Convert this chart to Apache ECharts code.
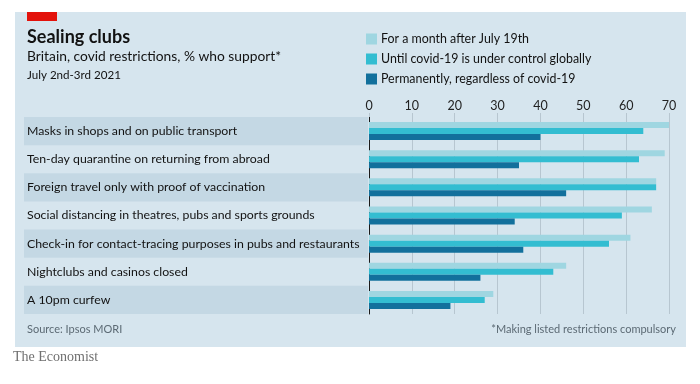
<!DOCTYPE html>
<html>
<head>
<meta charset="utf-8">
<script src="https://cdn.jsdelivr.net/npm/echarts@6/dist/echarts.min.js"></script>
<style>
html,body{margin:0;padding:0;background:#fff;}
#c{width:700px;height:384px;}
</style>
</head>
<body>
<div id="c"></div>
<script>
const categories = [
  "Masks in shops and on public transport",
  "Ten-day quarantine on returning from abroad",
  "Foreign travel only with proof of vaccination",
  "Social distancing in theatres, pubs and sports grounds",
  "Check-in for contact-tracing purposes in pubs and restaurants",
  "Nightclubs and casinos closed",
  "A 10pm curfew"
];
const seriesNames = [
  "For a month after July 19th",
  "Until covid-19 is under control globally",
  "Permanently, regardless of covid-19"
];
const monthAfter = [70, 69, 67, 66, 61, 46, 29];
const untilControl = [64, 63, 67, 59, 56, 43, 27];
const permanently = [40, 35, 46, 34, 36, 26, 19];
const xTicks = [0, 10, 20, 30, 40, 50, 60, 70];

const colors = ['#9fd6e1', '#33bdd1', '#12709c'];
const FONT = 'Lato';

const chart = echarts.init(document.getElementById('c'), null, {renderer: 'canvas'});
const option = {
  animation: false,
  backgroundColor: '#ffffff',
  textStyle: {fontFamily: FONT},
  graphic: [
    {type: 'rect', z: -10, shape: {x: 15, y: 12, width: 671, height: 335}, style: {fill: '#d6e5ee'}},
    {type: 'rect', z: 10, shape: {x: 27, y: 12, width: 30, height: 9}, style: {fill: '#e3120b'}},
    {type: 'text', left: 27, top: 28, style: {text: 'Sealing clubs', font: 'bold 18px ' + FONT, fill: '#121212'}},
    {type: 'text', left: 27, top: 50, style: {text: 'Britain, covid restrictions, % who support*', font: '13.8px ' + FONT, fill: '#121212'}},
    {type: 'text', left: 27, top: 69, style: {text: 'July 2nd-3rd 2021', font: '11.6px ' + FONT, fill: '#121212'}},
    {type: 'text', left: 27, top: 324, style: {text: 'Source: Ipsos MORI', font: '11px ' + FONT, fill: '#5c6a74'}},
    {type: 'text', right: 24, top: 324, style: {text: '*Making listed restrictions compulsory', font: '11px ' + FONT, fill: '#5c6a74', textAlign: 'right'}},
    {type: 'text', left: 13, top: 350, style: {text: 'The Economist', font: '14px "Liberation Serif", serif', fill: '#6f6f6f'}}
  ],
  legend: {
    left: 361, top: 28, orient: 'vertical', itemGap: 8,
    itemWidth: 11, itemHeight: 11, icon: 'rect',
    textStyle: {fontSize: 12.4, color: '#121212', fontFamily: FONT, padding: [0, 0, 0, -1]},
    data: seriesNames
  },
  grid: [
    {left: 369, right: 31, top: 117, bottom: 70, containLabel: false},
    {left: 24, width: 344, top: 117, bottom: 70, containLabel: false}
  ],
  xAxis: [
    {
      gridIndex: 0, type: 'value', position: 'top', min: 0, max: 70, interval: 10,
      axisLine: {show: false},
      axisTick: {show: true, length: 4, lineStyle: {color: '#b7c6d0'}},
      splitLine: {show: true, lineStyle: {color: '#b7c6d0', width: 1}},
      axisLabel: {color: '#222', fontSize: 12.5, margin: 5, fontFamily: FONT,
        formatter: v => xTicks.includes(v) ? String(v) : ''}
    },
    {gridIndex: 1, type: 'value', show: false, min: 0, max: 1}
  ],
  yAxis: [
    {
      gridIndex: 0, type: 'category', inverse: true, data: categories,
      axisLine: {show: true, lineStyle: {color: '#1a1a1a', width: 1}},
      axisTick: {show: false},
      axisLabel: {align: 'left', margin: 342, color: '#121212', fontSize: 12.3, fontFamily: FONT}
    },
    {
      gridIndex: 1, type: 'category', inverse: true, data: categories,
      axisLine: {show: false}, axisTick: {show: false}, axisLabel: {show: false},
      splitLine: {show: false},
      splitArea: {show: true, areaStyle: {color: ['#c4d8e4', 'rgba(0,0,0,0)']}}
    }
  ],
  series: [
    {name: seriesNames[0], type: 'bar', data: monthAfter, barWidth: 6, barGap: '0%', itemStyle: {color: colors[0]}},
    {name: seriesNames[1], type: 'bar', data: untilControl, barWidth: 6, barGap: '0%', itemStyle: {color: colors[1]}},
    {name: seriesNames[2], type: 'bar', data: permanently, barWidth: 6, barGap: '0%', itemStyle: {color: colors[2]}}
  ]
};
chart.setOption(option);
</script>
</body>
</html>
